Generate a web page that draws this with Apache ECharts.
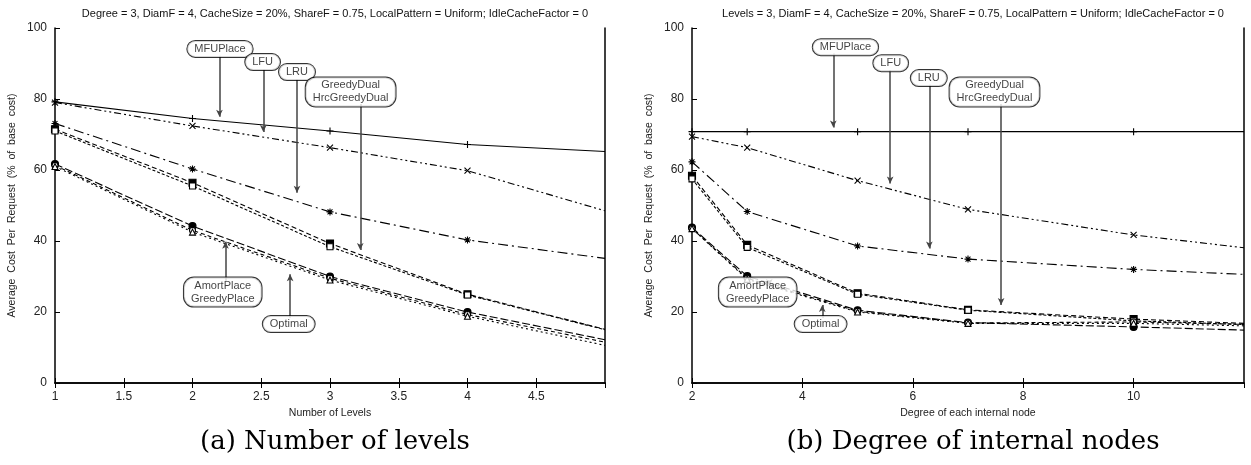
<!DOCTYPE html>
<html>
<head>
<meta charset="utf-8">
<script src="https://cdn.jsdelivr.net/npm/echarts@6/dist/echarts.min.js"></script>
<style>
  html, body { margin: 0; padding: 0; background: #fff; }
  #chart { width: 1251px; height: 465px; }
</style>
</head>
<body>
<div id="chart"></div>
<script>
// ---- data: (a) number of levels ----
const levelsX = [1, 2, 3, 4, 5];
const levMFUPlace = [79.2, 74.5, 71.0, 67.2, 65.2];
const levLFU = [79.0, 72.4, 66.3, 59.8, 48.5];
const levLRU = [73.1, 60.3, 48.2, 40.3, 35.1];
const levGreedyDual = [71.5, 56.4, 39.3, 25.0, 15.1];
const levHrcGreedyDual = [71.0, 55.5, 38.4, 24.8, 15.0];
const levAmortPlace = [61.7, 44.2, 30.0, 20.0, 12.2];
const levGreedyPlace = [61.3, 43.0, 29.5, 19.3, 11.5];
const levOptimal = [61.0, 42.5, 29.0, 18.8, 10.6];

// ---- data: (b) degree of internal nodes ----
const degreeX = [2, 3, 5, 7, 10, 12];
const degMFUPlace = [70.8, 70.8, 70.8, 70.8, 70.8, 70.8];
const degLFU = [69.4, 66.3, 57.0, 48.9, 41.7, 38.1];
const degLRU = [62.3, 48.3, 38.6, 34.9, 32.0, 30.6];
const degGreedyDual = [58.4, 38.9, 25.3, 20.6, 18.0, 16.8];
const degHrcGreedyDual = [57.5, 38.2, 25.0, 20.5, 17.5, 16.5];
const degAmortPlace = [43.8, 30.1, 20.5, 17.0, 15.8, 14.9];
const degGreedyPlace = [43.5, 29.5, 20.2, 16.9, 17.2, 16.5];
const degOptimal = [43.5, 29.2, 20.0, 16.8, 16.8, 16.1];

// ---- annotation boxes and arrows (data coordinates) ----
const levAnnText = ['MFUPlace', 'LFU', 'LRU', 'GreedyDual\nHrcGreedyDual', 'AmortPlace\nGreedyPlace', 'Optimal'];
const levAnnX = [2.20, 2.51, 2.76, 3.15, 2.22, 2.70];
const levAnnY = [94.1, 90.4, 87.6, 82.0, 25.6, 16.6];
const levArrowX = [2.196, 2.515, 2.76, 3.22, 2.24, 2.71];
const levArrowFrom = [92.2, 88.4, 85.6, 78.6, 28.7, 18.4];
const levArrowTo = [75.0, 70.7, 53.6, 37.5, 39.8, 30.6];

const degAnnText = ['MFUPlace', 'LFU', 'LRU', 'GreedyDual\nHrcGreedyDual', 'AmortPlace\nGreedyPlace', 'Optimal'];
const degAnnX = [4.78, 5.60, 6.29, 7.48, 3.19, 4.33];
const degAnnY = [94.6, 90.1, 85.9, 82.0, 25.6, 16.6];
const degArrowX = [4.56, 5.59, 6.30, 7.60, 3.40, 4.36];
const degArrowFrom = [92.8, 88.2, 84.0, 78.6, 28.7, 18.4];
const degArrowTo = [72.0, 56.2, 37.9, 22.0, 27.3, 22.0];

const yTicks = [0, 20, 40, 60, 80, 100];

const topTitleA = 'Degree = 3, DiamF = 4, CacheSize = 20%, ShareF = 0.75, LocalPattern = Uniform; IdleCacheFactor = 0';
const topTitleB = 'Levels = 3, DiamF = 4, CacheSize = 20%, ShareF = 0.75, LocalPattern = Uniform; IdleCacheFactor = 0';

// ---- styles ----
const plusPath = 'path://M0,5L10,5M5,0L5,10';
const crossPath = 'path://M0,0L10,10M0,10L10,0';
const starPath = 'path://M0,5L10,5M5,0L5,10M1.5,1.5L8.5,8.5M1.5,8.5L8.5,1.5';

const styles = {
  MFUPlace: { dash: 'solid', symbol: plusPath, fill: 'none', size: 7 },
  LFU: { dash: [7, 3, 2, 3, 2, 3], symbol: crossPath, fill: 'none', size: 6 },
  LRU: { dash: [10, 4, 2, 4], symbol: starPath, fill: 'none', size: 7 },
  GreedyDual: { dash: [5, 3], symbol: 'rect', fill: '#000', size: 7 },
  HrcGreedyDual: { dash: [3, 2], symbol: 'rect', fill: '#fff', size: 6 },
  AmortPlace: { dash: [8, 3], symbol: 'circle', fill: '#000', size: 7 },
  GreedyPlace: { dash: [4, 3], symbol: 'circle', fill: '#fff', size: 6 },
  Optimal: { dash: [2, 3], symbol: 'triangle', fill: '#fff', size: 6 }
};

function makeLine(name, xs, ys, axisIdx) {
  const st = styles[name];
  const last = xs.length - 1;
  return {
    name: name,
    type: 'line',
    xAxisIndex: axisIdx,
    yAxisIndex: axisIdx,
    data: xs.map((x, i) => (i === last ? { value: [x, ys[i]], symbol: 'none' } : [x, ys[i]])),
    symbol: st.symbol,
    symbolSize: st.size,
    showAllSymbol: true,
    clip: true,
    lineStyle: { color: '#000', width: 1.1, type: st.dash },
    itemStyle: { color: st.fill === 'none' ? 'rgba(0,0,0,0)' : st.fill, borderColor: '#000', borderWidth: 1.1 },
    emphasis: { disabled: true },
    animation: false,
    z: 3
  };
}

function makeArrows(xs, from, to, axisIdx) {
  return {
    type: 'scatter',
    xAxisIndex: axisIdx,
    yAxisIndex: axisIdx,
    data: [],
    silent: true,
    animation: false,
    markLine: {
      silent: true,
      animation: false,
      symbol: ['none', 'arrow'],
      symbolSize: [5, 7],
      label: { show: false },
      lineStyle: { color: '#444', width: 1.5, type: 'solid' },
      data: xs.map((x, i) => [{ coord: [x, from[i]] }, { coord: [x, to[i]] }])
    },
    z: 4
  };
}

function makeBoxes(texts, xs, ys, axisIdx) {
  return {
    type: 'scatter',
    xAxisIndex: axisIdx,
    yAxisIndex: axisIdx,
    symbolSize: 1,
    itemStyle: { color: 'rgba(0,0,0,0)' },
    silent: true,
    animation: false,
    data: xs.map((x, i) => ({ value: [x, ys[i]], name: texts[i] })),
    label: {
      show: true,
      position: 'inside',
      formatter: p => p.name,
      fontFamily: 'Liberation Sans',
      fontSize: 11,
      lineHeight: 13,
      color: '#111',
      backgroundColor: '#fff',
      borderColor: '#000',
      borderWidth: 1,
      borderRadius: 10,
      padding: [2, 7, 1, 7],
      align: 'center',
      verticalAlign: 'middle'
    },
    z: 5
  };
}

const axisFont = { fontFamily: 'Liberation Sans', fontSize: 12, color: '#222' };

function bottomX(min, max, interval, gridIndex, name) {
  return {
    type: 'value', gridIndex: gridIndex, min: min, max: max, interval: interval,
    position: 'bottom',
    name: name, nameLocation: 'middle', nameGap: 25,
    nameTextStyle: { fontFamily: 'Liberation Sans', fontSize: 10.5, color: '#222' },
    axisLine: { lineStyle: { color: '#000', width: 1.5 } },
    axisTick: { inside: true, length: 5, lineStyle: { color: '#000' } },
    axisLabel: Object.assign({ showMaxLabel: false, margin: 8 }, axisFont),
    splitLine: { show: false }
  };
}
function topX(min, max, interval, gridIndex) {
  return {
    type: 'value', gridIndex: gridIndex, min: min, max: max, interval: interval,
    position: 'top',
    axisLine: { lineStyle: { color: '#000', width: 1.5 } },
    axisTick: { inside: true, length: 5, lineStyle: { color: '#000' } },
    axisLabel: { show: false },
    splitLine: { show: false }
  };
}
function leftY(gridIndex) {
  return {
    type: 'value', gridIndex: gridIndex, min: yTicks[0], max: yTicks[yTicks.length - 1], interval: 20,
    position: 'left',
    name: 'Average  Cost  Per  Request  (%  of  base  cost)',
    nameLocation: 'middle', nameGap: 37, nameRotate: 90,
    nameTextStyle: { fontFamily: 'Liberation Sans', fontSize: 10.5, color: '#222' },
    axisLine: { lineStyle: { color: '#000', width: 1.5 } },
    axisTick: { inside: true, length: 5, lineStyle: { color: '#000' } },
    axisLabel: Object.assign({ margin: 8 }, axisFont),
    splitLine: { show: false }
  };
}
function rightY(gridIndex) {
  return {
    type: 'value', gridIndex: gridIndex, min: 0, max: 100, interval: 20,
    position: 'right',
    axisLine: { show: true, lineStyle: { color: '#000', width: 1.5 } },
    axisTick: { show: false },
    axisLabel: { show: false },
    splitLine: { show: false }
  };
}

const seriesNames = ['MFUPlace', 'LFU', 'LRU', 'GreedyDual', 'HrcGreedyDual', 'AmortPlace', 'GreedyPlace', 'Optimal'];
const levData = [levMFUPlace, levLFU, levLRU, levGreedyDual, levHrcGreedyDual, levAmortPlace, levGreedyPlace, levOptimal];
const degData = [degMFUPlace, degLFU, degLRU, degGreedyDual, degHrcGreedyDual, degAmortPlace, degGreedyPlace, degOptimal];

const series = [];
seriesNames.forEach((n, i) => series.push(makeLine(n, levelsX, levData[i], 0)));
seriesNames.forEach((n, i) => series.push(makeLine(n, degreeX, degData[i], 2)));
series.push(makeArrows(levArrowX, levArrowFrom, levArrowTo, 0));
series.push(makeArrows(degArrowX, degArrowFrom, degArrowTo, 2));
series.push(makeBoxes(levAnnText, levAnnX, levAnnY, 0));
series.push(makeBoxes(degAnnText, degAnnX, degAnnY, 2));

const captionStyle = { fontFamily: 'DejaVu Serif', fontSize: 26, fontWeight: 'normal', color: '#000' };

const chart = echarts.init(document.getElementById('chart'), null, { renderer: 'canvas' });
chart.setOption({
  backgroundColor: '#fff',
  animation: false,
  title: [
    { text: topTitleA, left: 330, top: 3, textAlign: 'center',
      textStyle: { fontFamily: 'Liberation Sans', fontSize: 11, fontWeight: 'normal', color: '#111' } },
    { text: topTitleB, left: 968, top: 3, textAlign: 'center',
      textStyle: { fontFamily: 'Liberation Sans', fontSize: 11, fontWeight: 'normal', color: '#111' } },
    { text: '(a) Number of levels', left: 330, top: 424, textAlign: 'center', textStyle: captionStyle },
    { text: '(b) Degree of internal nodes', left: 968, top: 424, textAlign: 'center', textStyle: captionStyle }
  ],
  grid: [
    { left: 55, right: 646, top: 28, bottom: 82 },
    { left: 692, right: 7, top: 28, bottom: 82 }
  ],
  xAxis: [
    bottomX(1, 5, 0.5, 0, 'Number of Levels'),
    topX(1, 5, 0.5, 0),
    bottomX(2, 12, 2, 1, 'Degree of each internal node'),
    topX(2, 12, 2, 1)
  ],
  yAxis: [leftY(0), rightY(0), leftY(1), rightY(1)],
  series: series
});
</script>
</body>
</html>
